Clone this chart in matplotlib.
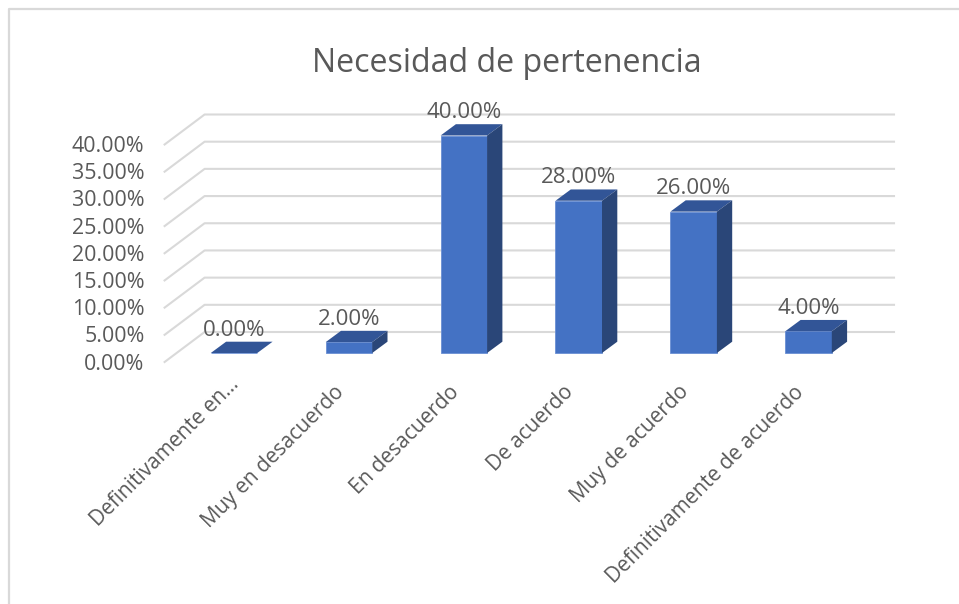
import matplotlib
matplotlib.use("Agg")
import matplotlib.pyplot as plt
from matplotlib.patches import Polygon
from matplotlib.lines import Line2D

plt.rcParams['font.family'] = ['Open Sans', 'DejaVu Sans']

categorias = ['Definitivamente en...', 'Muy en desacuerdo', 'En desacuerdo',
              'De acuerdo', 'Muy de acuerdo', 'Definitivamente de acuerdo']
valores = [0.0, 2.0, 40.0, 28.0, 26.0, 4.0]
marcas_y = [0, 5, 10, 15, 20, 25, 30, 35, 40]

ANCHO, ALTO = 959, 604
GRIS = '#D9D9D9'
TEXTO = '#595959'

fig = plt.figure(figsize=(ANCHO / 100, ALTO / 100), dpi=100)
fig.patch.set_facecolor('white')

# marco del grafico
fig.add_artist(Line2D([9 / ANCHO, 9 / ANCHO, 1], [0, 1 - 9 / ALTO, 1 - 9 / ALTO],
                      color=GRIS, lw=1.6))

ax = fig.add_axes([176.6 / ANCHO, 1 - 353 / ALTO, 689.4 / ANCHO, 217.5 / ALTO])
ax.set_xlim(-0.5, 5.5)
ax.set_ylim(0, 40)
ax.axis('off')

# profundidad del falso 3D, en unidades de los ejes
px_x = 6 / 689.4
px_y = 40 / 217.5
fondo_x, fondo_y = 28 * px_x, 21 * px_y
frente_x, frente_y = -12 * px_x, -9 * px_y
prof_x, prof_y = 15.3 * px_x, 11.3 * px_y
ancho = 46.5 * px_x

# rejilla: pared del fondo y pared lateral
for m in marcas_y:
    ax.plot([-0.5 + frente_x, -0.5 + fondo_x, 5.5 + fondo_x],
            [m + frente_y, m + fondo_y, m + fondo_y],
            color=GRIS, lw=1.5, clip_on=False, zorder=1)
    ax.annotate(f'{m:.2f}%', (-0.5 + frente_x, m + frente_y), xytext=(-20, -2),
                textcoords='offset pixels', ha='right', va='center',
                fontsize=15.4, color=TEXTO, annotation_clip=False)

# barras con cara frontal, superior y lateral
for i, v in enumerate(valores):
    x0, x1 = i - ancho / 2, i + ancho / 2
    ax.add_patch(Polygon([(x0, 0), (x1, 0), (x1, v), (x0, v)], closed=True,
                         facecolor='#4472C4', edgecolor='#6A8FD3', lw=0.6,
                         clip_on=False, zorder=3))
    ax.add_patch(Polygon([(x0, v), (x1, v), (x1 + prof_x, v + prof_y), (x0 + prof_x, v + prof_y)],
                         closed=True, facecolor='#325597', edgecolor='none',
                         clip_on=False, zorder=3))
    ax.add_patch(Polygon([(x1, 0), (x1 + prof_x, prof_y), (x1 + prof_x, v + prof_y), (x1, v)],
                         closed=True, facecolor='#2A4678', edgecolor='none',
                         clip_on=False, zorder=3))
    ax.annotate(f'{v:.2f}%', (i, v + prof_y), xytext=(0, 1),
                textcoords='offset pixels', ha='center', va='bottom',
                fontsize=16, color=TEXTO, annotation_clip=False, zorder=4)
    # la etiqueta recortada queda algo mas arriba y a la derecha
    dx, dy = (2, -28) if i == 0 else (-8, -36)
    ax.annotate(categorias[i], (i, 0), xytext=(dx, dy), textcoords='offset pixels',
                ha='right', va='center', rotation=45, rotation_mode='anchor',
                fontsize=15, color=TEXTO, annotation_clip=False)

fig.text(507 / ANCHO, 1 - 63 / ALTO, 'Necesidad de pertenencia', ha='center', va='center',
         fontsize=23.1, color=TEXTO)

fig.savefig('out.png', dpi=100)
